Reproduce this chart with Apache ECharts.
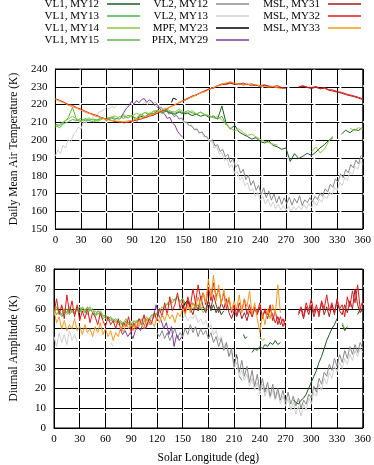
<!DOCTYPE html>
<html><head><meta charset="utf-8">
<script src="https://cdn.jsdelivr.net/npm/echarts@6/dist/echarts.min.js"></script>
<style>html,body{margin:0;padding:0;background:#fff}#c{width:374px;height:465px}</style>
</head><body><div id="c"></div>
<script>
// ---------- DATA (Ls in degrees; values in K) ----------
const xTicks = [0,30,60,90,120,150,180,210,240,270,300,330,360];

// Top panel: daily mean air temperature
const tMSL32 = {start:0, step:5, v:[223.2,222.4,221.3,220.1,219.6,218.2,217.4,216.3,215.2,214.4,213.6,212.3,212.1,211.2,210.4,210.6,209.7,210.1,210.6,211.3,211.8,212.6,213.4,214.1,215.2,216.6,217.3,218.9,219.8,221.2,222.4,223.6,224.3,225.6,226.4,227.8,228.6,229.4,230.7,231.2,231.6,232.4,231.8,231.4,232.1,231.2,231.6,230.8,230.6,231.1,230.4,230.2,230.6,229.6,229.2,null,null,230.1,230.6,229.8,229.6,230.2,229.1,229.6,228.4,228.2,227.3,226.9,226.1,225.4,224.8,224.1,223.2]};
const tMSL33 = {start:0, step:5, v:[223.0,221.8,221.0,219.6,218.8,217.9,216.8,215.6,214.9,213.8,213.1,212.4,211.6,211.0,210.9,210.2,210.4,210.8,211.2,211.9,212.4,213.1,214.0,214.8,215.9,216.8,217.8,218.6,220.1,221.0,222.2,223.1,224.4,225.2,226.6,227.2,228.4,229.6,230.4,231.4,232.2,232.8,232.0,231.6,231.2,231.6,230.8,231.2,230.4,230.1,229.8,230.2,229.4,229.0]};
const tMSL31 = {start:150, step:5, v:[222.0,223.2,224.8,225.2,226.8,227.4,228.9,229.2,230.4,231.6,231.4,232.0,231.3,231.8,231.0,231.4,230.6,230.9,230.2,230.8,230.0,229.6,229.8,229.2,229.4,null,null,229.8,230.2,229.6,229.0,229.8,228.8,229.2,228.1,227.6,227.0,226.4,225.6,225.0,224.4,223.6,222.8]};
const tVL1_13 = {start:0, step:5, v:[208.2,207.0,209.4,210.2,211.6,211.0,212.2,210.8,211.4,211.8,211.2,212.6,211.0,212.4,211.6,213.2,212.2,214.0,213.0,212.4,214.6,213.2,215.2,214.0,216.2,215.0,216.8,215.6,215.0,216.4,215.2,216.6,215.4,214.6,215.8,214.4,213.8,212.6,212.0,213.4,208.8]};
const tVL1_14 = {start:0, step:5, v:[207.4,208.8,210.6,211.8,213.4,212.0,210.8,211.6,212.0,211.2,210.6,211.8,212.4,
  212.8,213.6,212.2,214.4,212.6,213.8,215.0,214.2,215.6,214.8,216.4,
  216.8,215.4,217.6,216.2,215.8,217.4,216.0,215.2,216.6,214.8,215.6,214.2,213.8,212.6,213.2,211.4,208.6,
  206.8,205.2,206.4,204.2,202.6,203.4,201.8,
  200.4,199.2,198.6,197.8,197.2,
  null,null,null,null,null,null,null,
  193.4,196.2,192.8,194.8,199.2,202.4,
  null,null,null,
  206.8,205.2,207.0,206.2]};
const tVL1_15 = {start:0, step:5, v:[209.0,208.2,210.0,212.6,218.4,211.2,210.4,212.2,211.0,210.2,211.6,212.8,211.4,213.0,212.2,211.8,213.6,212.4,214.2,210.2,213.8,215.6,214.0,216.2,215.2,217.0,216.4]};
const tVL1_12 = {start:95, step:5, v:[212.0,213.4,212.6,214.2,215.0,216.4,215.6,
  216.2,215.2,214.6,215.8,214.6,215.2,213.8,214.6,213.4,214.2,212.8,213.6,211.8,219.2,209.4,
  206.2,208.4,204.6,203.2,202.0,200.6,201.4,199.2,198.4,199.6,197.0,196.2,194.8,195.6,
  188.0,192.4,189.6,191.0,192.6,191.4,193.2,195.6,197.4,199.8,201.2,
  null,203.4,205.6,204.2,206.0,205.4,207.2]};
const tVL2_12 = {start:118, step:3, v:[219.2,217.6,218.4,216.2,216.8,214.6,215.4,213.2,214.0,211.8,212.4,210.2,209.6,208.4,207.8,205.6,206.2,204.0,204.6,202.2,201.6,199.4,200.2,196.8,197.4,193.6,194.8,190.6,192.0,187.4,189.6,184.8,186.2,181.4,183.6,177.8,180.4,174.6,177.2,171.8,174.6,169.4,173.2,167.6,171.4,166.2,169.8,164.6,168.4,163.8,167.6,164.2,168.0,163.4,167.2,164.6,168.8,163.2,166.4,164.8,167.6,165.2,168.4,166.6,170.2,168.4,172.6,170.8,175.2,173.4,178.2,176.4,181.0,178.8,183.4,181.6,186.2,184.4,188.8,186.6,191.4]};
const tVL2_13a = {start:0, step:3, v:[191.0,194.6,192.4,197.2,195.6,200.4,198.8,203.2,204.6,207.4,206.2,210.4,209.6,212.8,211.4,214.2,213.6,215.8,216.4,217.2,218.6,217.4,219.0,218.2,219.4]};
const tVL2_13b = {start:102, step:3, v:[220.4,221.2,220.0,221.6,220.8,221.4,219.6,218.8,217.4,218.2,215.6,216.0,213.8,214.4,212.0,212.6,210.2,210.8,208.0,208.6,206.2,206.8,204.0,204.4,201.6,202.2,199.0,199.8,195.6,196.4,192.2,193.0,188.4,189.6,184.6,186.0,181.2,182.4,177.6,179.2,174.4,176.0,171.2,172.8,168.4,170.6,166.2,168.4,164.0,166.8,162.6,165.2,161.4,164.0,160.8,163.2,160.4,162.8,160.2,162.6,160.6,163.0,160.8,163.6,161.4,164.2,162.0,165.4,163.2,166.8,165.0,168.6,167.0,170.8,169.2,173.4,171.6,176.2,174.4,179.0,177.4,182.0,180.6,185.2,183.6,188.0,186.4]};
const tPHX = {start:77, step:3, v:[213.0,215.4,217.8,219.2,221.6,220.4,222.2,221.0,222.8,223.4,221.2,222.6,221.8,219.6,220.4,217.8,216.0,214.6,212.2,212.8,209.6,208.4,205.0,203.2,201.6]};
const tMPF = {start:136, step:2, v:[221.2,223.6,224.4,222.8]};

// Bottom panel: diurnal amplitude
const aMSL32a = {start:0, step:3, v:[58,65,57,62,55,67,58,64,56,62,54,59,55,60,53,58,56,52,58,54,51,56,52,54,50,55,49,53,51,56,48,53,50,55,52,57,51,55,53,58,54,60,56,63,57,66,59,62,68,60,64,58,66,61,70,63,72,65,68,62,71,64,73,66,70,63,68,60,65,58,62,57,63,59,65,57,62,56,61,58,63,55,60,57,62,54,59,52,56,51,55]};
const aMSL32b = {start:285, step:3, v:[58,61,56,63,59,65,58,62,56,64,60,67,59,63,57,65,60,62,56,66,61,69,63,72,60,64]};
const aMSL33 = {start:0, step:3, v:[59,53,56,50,54,49,52,50,55,49,51,47,52,48,50,46,51,48,53,47,50,46,49,44,48,46,51,48,53,50,52,49,54,51,53,50,55,52,54,51,56,53,57,54,58,55,57,53,58,56,60,57,62,58,63,60,66,61,68,63,75,66,77,64,72,62,70,61,66,59,64,60,67,58,65,61,69,57,63,55,48,58,52,60,55,62,57,72,58]};
const aMSL31a = {start:150, step:3, v:[62,58,64,60,57,63,59,66,61,58,64,60,67,62,58,63,60,65,58,55,59,56,60,55,58,54,59,56,60,57,61,56,59,55,60,57,53,56,52,55,51]};
const aMSL31b = {start:285, step:3, v:[57,60,55,61,57,62,56,60,58,63,57,61,56,62,58,64,59,57,62,58,64,60,70,62,58,61]};
const aVL1_13a = {start:0, step:3, v:[60,57,59,56,58,60,57,59,58,61,59,60,58,61,59,60,57,59,58,56,57,55,56,54,55,53,54,52,54,53,52,54,53,55,54,56,54,55,57,56,58,60,59,61,62,64,63,65,66,64,65,63,64,62,63,61,62,60,61,59,60]};
const aVL1_13b = {start:216, step:3, v:[26,24]};
const aVL1_14a = {start:0, step:3, v:[57,60,58,61,59,57,60,58,60,59,61,58,60,59,61,58,59,57,59,57,55,56,54,55,53,54,52,53,55,52,53,51,54,52,55,53,56,54,56,58,57,59,61,60,63,62,65,64,66,63,65,62,64,61,60,62,59,61,58,60]};
const aVL1_14b = {start:240, step:3, v:[46,44,45]};
const aVL1_14c = {start:336, step:3, v:[53,50]};
const aVL1_15 = {start:0, step:3, v:[58,61,59,57,60,58,61,59,57,60,58,61,59,57,60,58,56,58,57,55,56,54,55,53,54,52,53,51,53,52,54]};
const aVL1_12a = {start:177, step:3, v:[60,64,59,62,58,61,57,59]};
const aVL1_12b = {start:212, step:2, v:[37,35]};
const aVL1_12g = {start:221, step:2, v:[47,45,46]};
const aVL1_12c = {start:231, step:3, v:[38,40,39,41,40,42,41,43,42,44,42,43]};
const aVL1_12d = {start:279, step:3, v:[14,13,12,14,15,17,20,23,26,29,33,36,40,44,47,50,52,55]};
const aVL1_12e = {start:336, step:3, v:[52,49,51]};
const aVL1_12f = {start:354, step:3, v:[57,60,58]};
const aVL2_13a = {start:0, step:3, v:[46,41,48,43,47,42,49,44,47,43]};
const aVL2_13b = {start:66, step:3, v:[43,41]};
const aVL2_13c = {start:150, step:3, v:[55,57,54,56,55,57,53,55,52,54,50,52,47,49,44,46,40,43,36,38,30,33,26,29,24,27,21,25,19,23,17,22,16,20,15,19,14,18,12,16,11,15,9,13,7,11,6,12,9,15,12,18,16,22,19,25,22,28,25,31,28,33,30,35,32,37,34,39,36,40,38]};
const aVL2_12 = {start:120, step:3, v:[48,46,49,45,48,44,47,50,45,48,46,50,47,52,48,51,46,50,47,49,45,48,43,46,41,45,39,43,36,40,31,37,28,34,26,31,23,29,21,27,19,25,18,23,16,22,15,20,14,19,13,18,12,16,11,15,10,14,12,17,15,21,18,25,22,28,26,32,29,35,31,37,33,39,35,41,37,42,38,43,40]};
const aPHX = {start:77, step:3, v:[50,47,49,46,48,45,49,51,49,53,50,54,52,56,62,57,54,50,53,47,51,41,47,44,46]};
const aMPF = {start:150, step:3, v:[60,63,64,61]};

// ---------- helpers ----------
function seg(s){ return s.v.map((v,i)=>[s.start+i*s.step, v==null?'-':v]); }
function join(...ss){ const out=[]; ss.forEach((s,i)=>{ const d=seg(s); if(i>0) out.push([d[0][0]-0.1,'-']); out.push(...d); }); return out; }

const COL = {
  'VL1, MY12':'#1e5b26','VL1, MY13':'#4cae4c','VL1, MY14':'#8dc63f','VL1, MY15':'#5fb44a',
  'VL2, MY12':'#8a8a8a','VL2, MY13':'#d0d0d0','MPF, MY23':'#000000','PHX, MY29':'#7b3f98',
  'MSL, MY31':'#a31d1d','MSL, MY32':'#e31a1c','MSL, MY33':'#f39a1e'
};
// drawing order (bottom to top)
const topPanel = [
  ['VL2, MY13', join(tVL2_13a,tVL2_13b)],
  ['VL2, MY12', join(tVL2_12)],
  ['VL1, MY12', join(tVL1_12)],
  ['VL1, MY15', join(tVL1_15)],
  ['VL1, MY13', join(tVL1_13)],
  ['VL1, MY14', join(tVL1_14)],
  ['MPF, MY23', join(tMPF)],
  ['PHX, MY29', join(tPHX)],
  ['MSL, MY31', join(tMSL31)],
  ['MSL, MY32', join(tMSL32)],
  ['MSL, MY33', join(tMSL33)]
];
const botPanel = [
  ['VL2, MY13', join(aVL2_13a,aVL2_13b,aVL2_13c)],
  ['VL2, MY12', join(aVL2_12)],
  ['VL1, MY12', join(aVL1_12a,aVL1_12b,aVL1_12g,aVL1_12c,aVL1_12d,aVL1_12e,aVL1_12f)],
  ['VL1, MY15', join(aVL1_15)],
  ['VL1, MY13', join(aVL1_13a,aVL1_13b)],
  ['VL1, MY14', join(aVL1_14a,aVL1_14b,aVL1_14c)],
  ['MPF, MY23', join(aMPF)],
  ['PHX, MY29', join(aPHX)],
  ['MSL, MY31', join(aMSL31a,aMSL31b)],
  ['MSL, MY32', join(aMSL32a,aMSL32b)],
  ['MSL, MY33', join(aMSL33)]
];

const FONT = 'Liberation Serif';
const series = [];
[[topPanel,0],[botPanel,1]].forEach(([arr,idx])=>{
  arr.forEach(([name,data])=>{
    series.push({name, type:'line', xAxisIndex:idx, yAxisIndex:idx, data,
      showSymbol:false, symbol:'none', connectNulls:false,
      lineStyle:{width:1, color:COL[name]}, itemStyle:{color:COL[name]}, animation:false});
  });
});

function mkX(gi, withName){
  return {type:'value', gridIndex:gi, min:0, max:360, interval:30,
    name: withName ? 'Solar Longitude (deg)' : '', nameLocation:'middle', nameGap:24,
    nameTextStyle:{fontFamily:FONT, fontSize:11.5, color:'#000'},
    axisLine:{show:true, lineStyle:{color:'#000', width:1}},
    axisTick:{show:false},
    axisLabel:{fontFamily:FONT, fontSize:11, color:'#000', margin:6},
    splitLine:{show:true, lineStyle:{color:'#000', width:1, type:[16,2]}}};
}
function mkY(gi, name, min, max){
  return {type:'value', gridIndex:gi, min, max, interval:10, name, nameLocation:'middle', nameGap:34,
    nameTextStyle:{fontFamily:FONT, fontSize:11.5, color:'#000'},
    axisLine:{show:true, lineStyle:{color:'#000', width:1}},
    axisTick:{show:false},
    axisLabel:{fontFamily:FONT, fontSize:11, color:'#000', margin:8},
    splitLine:{show:true, lineStyle:{color:'#000', width:1, type:[24,2]}}};
}
function mkLegend(names, right){
  return {data:names, orient:'vertical', align:'right', right, top:-2, padding:0, itemGap:0,
    itemWidth:33, itemHeight:1.5, icon:'rect',
    textStyle:{fontFamily:FONT, fontSize:11, color:'#000', lineHeight:12, padding:[0,3,0,0]}};
}

const chart = echarts.init(document.getElementById('c'), null, {renderer:'canvas'});
chart.setOption({
  backgroundColor:'#fff', animation:false,
  legend:[
    mkLegend(['VL1, MY12','VL1, MY13','VL1, MY14','VL1, MY15'], 234),
    mkLegend(['VL2, MY12','VL2, MY13','MPF, MY23','PHX, MY29'], 125),
    mkLegend(['MSL, MY31','MSL, MY32','MSL, MY33'], 13)
  ],
  grid:[
    {left:48, right:11, top:69, height:160, show:true, borderColor:'#000', borderWidth:1, backgroundColor:'transparent'},
    {left:48, right:11, top:269, height:160, show:true, borderColor:'#000', borderWidth:1, backgroundColor:'transparent'}
  ],
  xAxis:[mkX(0,false), mkX(1,true)],
  yAxis:[mkY(0,'Daily Mean Air Temperature (K)',150,240), mkY(1,'Diurnal Amplitude (K)',0,80)],
  series
});
</script></body></html>
